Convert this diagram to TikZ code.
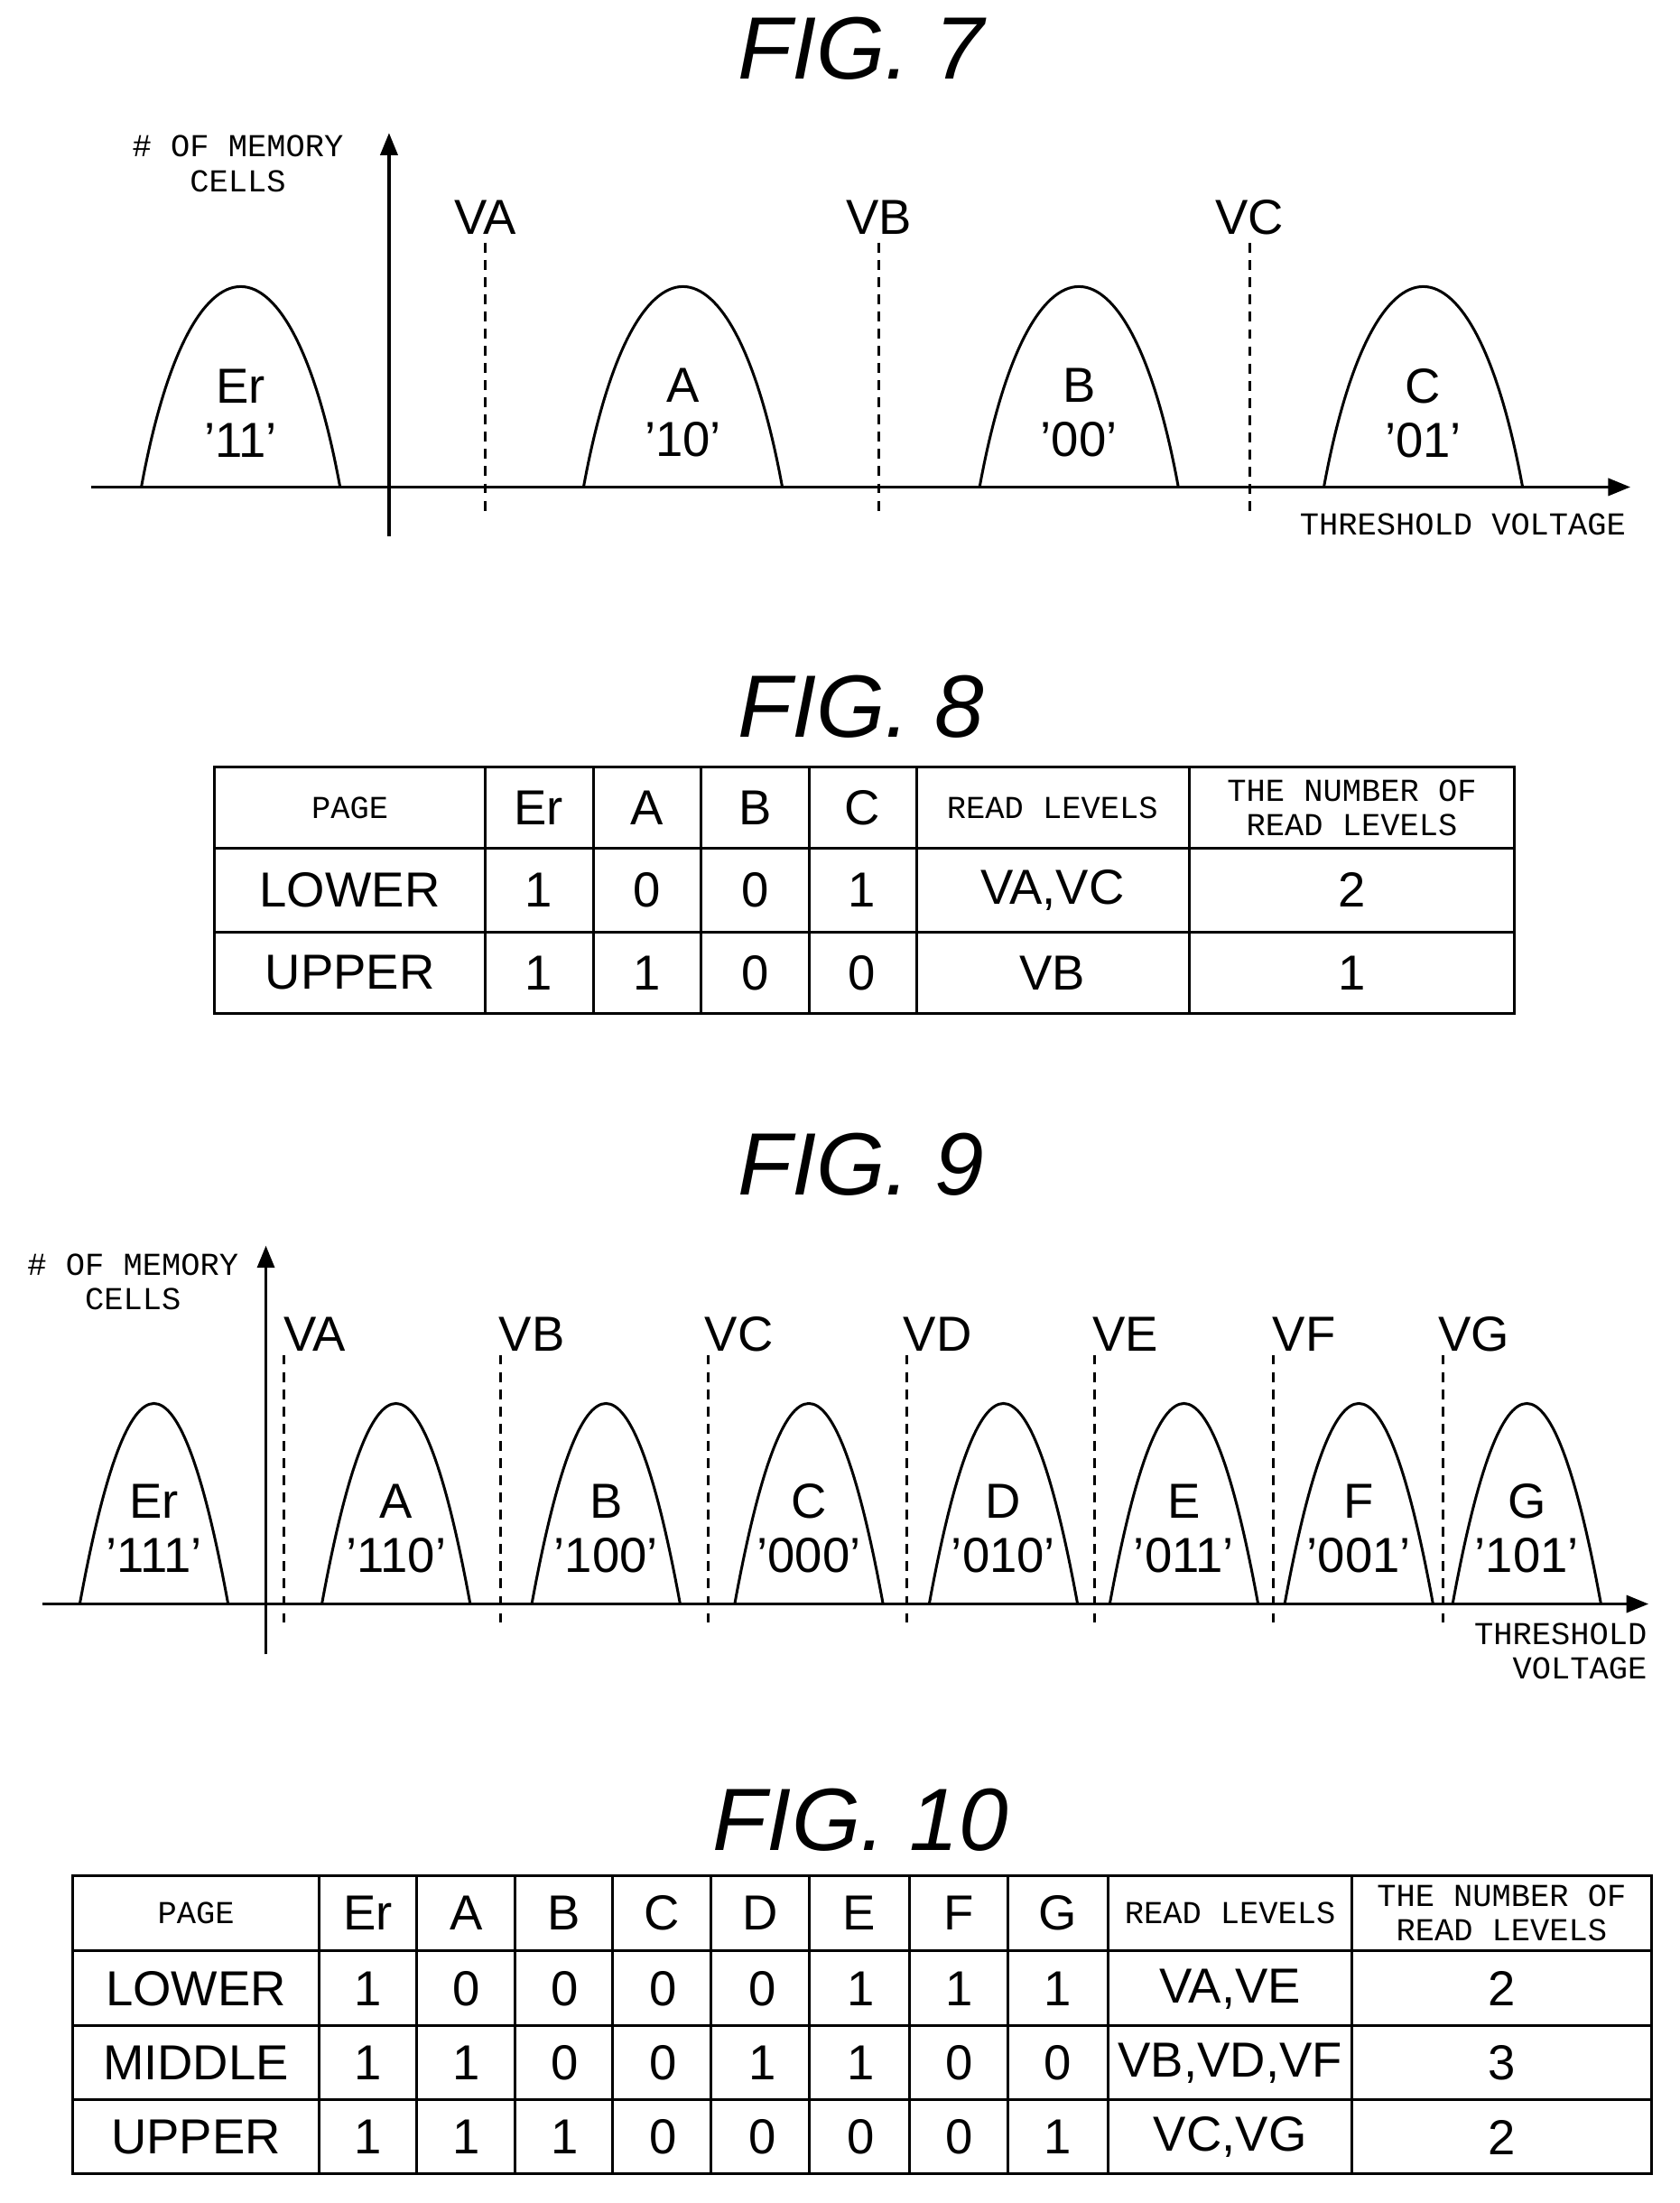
\documentclass[tikz,border=0pt]{standalone}
\usepackage{fontspec}
\setmainfont{Liberation Sans}
\setmonofont{Liberation Mono}
\usetikzlibrary{arrows.meta,positioning}

\tikzset{
  axis/.style={line width=1.2pt,-{Triangle[length=9pt,width=7pt]}},
  level/.style={line width=1.1pt,dash pattern=on 4pt off 3pt},
  bell/.style={line width=1.1pt},
  grid/.style={line width=1.1pt},
  title/.style={font=\fontsize{36}{40}\selectfont\itshape},
  vlab/.style={font=\fontsize{20}{22}\selectfont},
  mono/.style={font=\ttfamily\fontsize{13}{14}\selectfont,align=center},
  cell/.style={font=\fontsize{20}{22}\selectfont}
}
% bell curve: #1 left, #2 right, #3 base, #4 control height
\newcommand{\bellcurve}[4]{\draw[bell] (#1,#3) .. controls ({#1+35},#4) and ({#2-35},#4) .. (#2,#3);}

\begin{document}
\begin{tikzpicture}[x=0.02cm,y=-0.02cm]
  \useasboundingbox (0,0) rectangle (1200,1574);

  % FIG. 7
  \node[title] (t7) at (615,35) {FIG. 7};
  \coordinate (o7) at (278,383);
  \coordinate (y7) at (278,95);
  \coordinate (x7a) at (65,348);
  \coordinate (x7b) at (1165,348);
  \draw[axis] (o7) -- (y7);
  \draw[axis] (x7a) -- (x7b);
  \node[mono] (yl7) at (170,117) {\# OF MEMORY\\CELLS};
  \node[mono,anchor=east] (xl7) at (1168,375) {THRESHOLD VOLTAGE};
  \foreach \n/\x in {VA/347,VB/628,VC/893}{
    \node[vlab] (l7\n) at (\x,155) {\n};
    \coordinate (b7\n) at (\x,365);
    \draw[level] (l7\n.south) -- (b7\n);
  }
  \foreach \n/\c/\x in {Er/11/172,A/10/488,B/00/771,C/01/1017}{
    \bellcurve{\x-71}{\x+71}{348}{157}
    \node[vlab,align=center] (s7\n) at (\x,295) {\n\\'\c'};
  }

  % FIG. 8
  \node[title] (t8) at (615,505) {FIG. 8};
  \draw[grid] (153,548) rectangle (1082,724);
  \foreach \y in {606,666} \draw[grid] (153,\y) -- (1082,\y);
  \foreach \x in {347,424,501,578,655,850} \draw[grid] (\x,548) -- (\x,724);
  \node[mono] (p8) at (250,577) {PAGE};
  \node[mono] (r8) at (752,577) {READ LEVELS};
  \node[mono] (n8) at (966,577) {THE NUMBER OF\\READ LEVELS};
  \foreach \n/\x in {Er/385,A/462,B/540,C/616} \node[cell] (h8\n) at (\x,577) {\n};
  \foreach \p/\y/\a/\b/\c/\d/\r/\k in {LOWER/636/1/0/0/1/{VA,VC}/2,UPPER/695/1/1/0/0/VB/1}{
    \node[cell] (p8\p) at (250,\y) {\p};
    \node[cell] at (385,\y) {\a};
    \node[cell] at (462,\y) {\b};
    \node[cell] at (540,\y) {\c};
    \node[cell] at (616,\y) {\d};
    \node[cell] at (752,\y) {\r};
    \node[cell] at (966,\y) {\k};
  }

  % FIG. 9
  \node[title] (t9) at (615,832) {FIG. 9};
  \coordinate (o9) at (190,1182);
  \coordinate (y9) at (190,890);
  \coordinate (x9a) at (30,1146);
  \coordinate (x9b) at (1178,1146);
  \draw[axis] (o9) -- (y9);
  \draw[axis] (x9a) -- (x9b);
  \node[mono] (yl9) at (95,916) {\# OF MEMORY\\CELLS};
  \node[mono,anchor=east,align=right] (xl9) at (1183,1180) {THRESHOLD\\VOLTAGE};
  \foreach \n/\x in {VA/203,VB/358,VC/506,VD/648,VE/782,VF/910,VG/1031}{
    \node[vlab] (l9\n) at (\x+22,953) {\n};
    \coordinate (u9\n) at (\x,968);
    \coordinate (b9\n) at (\x,1163);
    \draw[level] (u9\n) -- (b9\n);
  }
  \foreach \n/\c/\x in {Er/111/110,A/110/283,B/100/433,C/000/578,D/010/717,E/011/846,F/001/971,G/101/1091}{
    \bellcurve{\x-53}{\x+53}{1146}{955}
    \node[vlab,align=center] (s9\n) at (\x,1092) {\n\\'\c'};
  }

  % FIG. 10
  \node[title] (t10) at (615,1300) {FIG. 10};
  \draw[grid] (52,1340) rectangle (1180,1553);
  \foreach \y in {1394,1447,1500} \draw[grid] (52,\y) -- (1180,\y);
  \foreach \x in {228,298,368,438,508,578,650,720,792,966} \draw[grid] (\x,1340) -- (\x,1553);
  \node[mono] (p10) at (140,1367) {PAGE};
  \node[mono] (r10) at (879,1367) {READ LEVELS};
  \node[mono] (n10) at (1073,1367) {THE NUMBER OF\\READ LEVELS};
  \foreach \n/\x in {Er/263,A/333,B/403,C/473,D/543,E/614,F/685,G/756} \node[cell] (h10\n) at (\x,1367) {\n};
  \foreach \p/\y/\r/\k in {LOWER/1421/{VA,VE}/2,MIDDLE/1474/{VB,VD,VF}/3,UPPER/1527/{VC,VG}/2}{
    \node[cell] (p10\p) at (140,\y) {\p};
    \node[cell] at (879,\y) {\r};
    \node[cell] at (1073,\y) {\k};
  }
  \foreach \y/\bits in {1421/{1,0,0,0,0,1,1,1},1474/{1,1,0,0,1,1,0,0},1527/{1,1,1,0,0,0,0,1}}{
    \foreach \v [count=\i] in \bits \node[cell] at ({263+70.4*(\i-1)},\y) {\v};
  }
\end{tikzpicture}
\end{document}
